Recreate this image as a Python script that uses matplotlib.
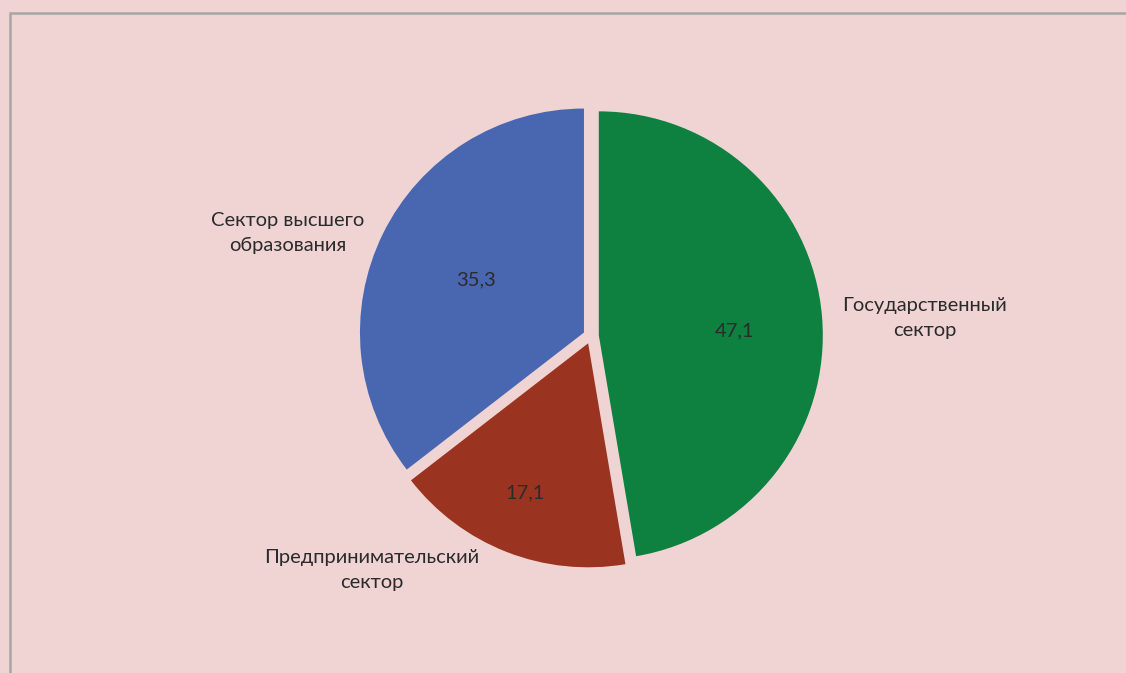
import matplotlib.pyplot as plt
from matplotlib.patches import Rectangle

sectors = ["Государственный\nсектор", "Предпринимательский\nсектор", "Сектор высшего\nобразования"]
shares = [47.1, 17.1, 35.3]
share_labels = ["47,1", "17,1", "35,3"]
colors = ["#0e8040", "#9a3420", "#4867b0"]

plt.rcParams["font.family"] = ["Lato", "DejaVu Sans"]

W, H = 1126, 673
R = 224  # pie radius in px
cx, cy = 591, 673 - 336

fig = plt.figure(figsize=(W / 100, H / 100), dpi=100)
fig.patch.set_facecolor("#f0d4d4")
ax = fig.add_axes([0, 0, 1, 1])
ax.set_facecolor("#f0d4d4")

wedges, texts, autotexts = ax.pie(
    shares,
    labels=sectors,
    colors=colors,
    startangle=90,
    counterclock=False,
    explode=[0.035] * 3,
    autopct="%1.1f",
    pctdistance=0.65,
    labeldistance=1.3,
    textprops={"fontsize": 14.5, "color": "#2b2b2b"},
)
for t, s in zip(autotexts, share_labels):
    t.set_text(s)

# label positions (px)
label_px = [(925, 318), (372, 570), (288, 233)]
value_px = [(735, 331), (525, 493), (476, 280)]
for t, (px, py) in zip(texts, label_px):
    t.set_position(((px - cx) / R, ((H - py) - cy) / R))
    t.set_ha("center")
    t.set_va("center")
    t.set_multialignment("center")
    t.set_linespacing(1.55)
for t, (px, py) in zip(autotexts, value_px):
    t.set_position(((px - cx) / R, ((H - py) - cy) / R))
    t.set_ha("center")
    t.set_va("center")

ax.set_aspect("auto")
ax.set_xlim(-cx / R, (W - cx) / R)
ax.set_ylim(-cy / R, (H - cy) / R)
ax.axis("off")

fig.add_artist(Rectangle((9.5 / W, -0.1), 1.2, (H - 12.5) / H + 0.1,
                         transform=fig.transFigure, fill=False,
                         edgecolor="#a6a6a6", linewidth=1.8))

plt.savefig("out.png", dpi=100, facecolor=fig.get_facecolor())
